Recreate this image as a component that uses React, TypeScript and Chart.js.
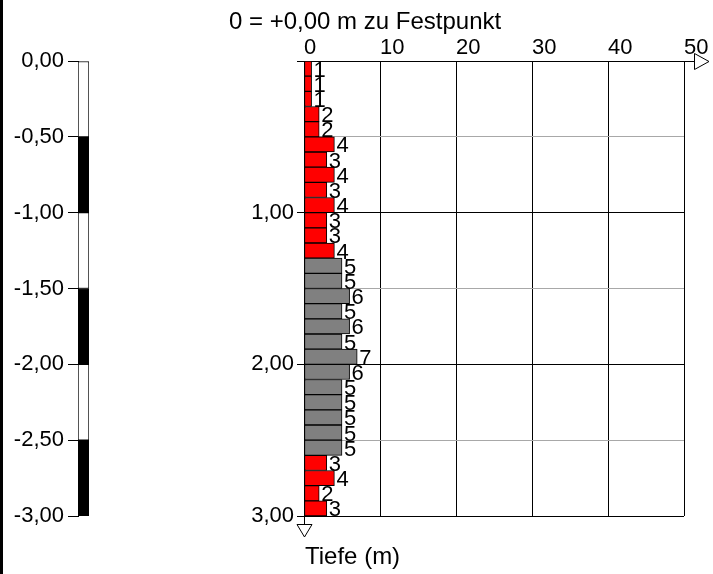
import React, { useEffect, useRef } from 'react';
import { Chart, registerables } from 'chart.js';

Chart.register(...registerables);

// ---- data ----
// bottom depth (m) of every 10 cm interval
const depthBottoms = [
  0.1, 0.2, 0.3, 0.4, 0.5, 0.6, 0.7, 0.8, 0.9, 1.0,
  1.1, 1.2, 1.3, 1.4, 1.5, 1.6, 1.7, 1.8, 1.9, 2.0,
  2.1, 2.2, 2.3, 2.4, 2.5, 2.6, 2.7, 2.8, 2.9, 3.0,
];
// blows per 10 cm
const blows = [
  1, 1, 1, 2, 2, 4, 3, 4, 3, 4,
  3, 3, 4, 5, 5, 6, 5, 6, 5, 7,
  6, 5, 5, 5, 5, 5, 3, 4, 2, 3,
];
// soil layers (bottom depth) and their colours
const layerBottoms = [1.3, 2.6, 3.0];
const layerColors = ['#ff0000', '#808080', '#ff0000'];
// left scale bar breaks and colours
const scaleBreaks = [0, -0.5, -1.0, -1.5, -2.0, -2.5, -3.0];
const scaleColors = ['#ffffff', '#000000', '#ffffff', '#000000', '#ffffff', '#000000'];
// texts
const titleText = '0 = +0,00 m zu Festpunkt';
const depthAxisTitle = 'Tiefe (m)';
const blowTicks = [0, 10, 20, 30, 40, 50];

const FONT = "'Liberation Sans', Arial, sans-serif";
const TICK_SIZE = 22;
const TITLE_SIZE = 24;

const fmt = (v: number) => v.toFixed(2).replace('.', ',');

const colorForDepth = (d: number) => {
  for (let i = 0; i < layerBottoms.length; i++) {
    if (d <= layerBottoms[i] + 1e-9) return layerColors[i];
  }
  return layerColors[layerColors.length - 1];
};

export default function App() {
  const leftRef = useRef<HTMLCanvasElement>(null);
  const mainRef = useRef<HTMLCanvasElement>(null);

  useEffect(() => {
    const leftCanvas = leftRef.current!;
    const mainCanvas = mainRef.current!;

    const leftDeco = {
      id: 'leftDeco',
      afterDraw(chart: any) {
        const ctx = chart.ctx;
        ctx.save();
        ctx.fillStyle = '#000';
        ctx.fillRect(0, 0, 3, chart.height);
        ctx.restore();
      },
    };

    const leftChart = new Chart(leftCanvas, {
      type: 'bar',
      data: {
        labels: [''],
        datasets: scaleColors.map((c, i) => ({
          data: [[scaleBreaks[i + 1], scaleBreaks[i]]] as any,
          backgroundColor: c,
          borderColor: '#000',
          borderWidth: 1,
          borderSkipped: false,
          grouped: false,
          barPercentage: 1,
          categoryPercentage: 1,
        })),
      },
      options: {
        animation: false,
        responsive: false,
        layout: { padding: { left: 0, top: 61, right: 11, bottom: 58 } },
        scales: {
          x: { display: false },
          y: {
            min: -3,
            max: 0,
            ticks: {
              stepSize: 0.5,
              color: '#000',
              padding: 4,
              font: { family: FONT, size: TICK_SIZE },
              callback: (v: any) => fmt(Number(v)),
            },
            grid: { drawOnChartArea: false, tickLength: 10, color: '#000' },
            border: { color: '#000' },
            afterFit: (s: any) => {
              s.width = 78;
            },
          },
        },
        plugins: { legend: { display: false }, tooltip: { enabled: false } },
      },
      plugins: [leftDeco],
    } as any);

    const mainDeco = {
      id: 'mainDeco',
      afterDraw(chart: any) {
        const ctx = chart.ctx;
        const xs = chart.scales.x;
        const ys = chart.scales.y;
        const x0 = xs.getPixelForValue(0);
        const xEnd = xs.getPixelForValue(50);
        const yTop = ys.getPixelForValue(0);
        const yBot = ys.getPixelForValue(3);
        ctx.save();
        ctx.strokeStyle = '#000';
        ctx.lineWidth = 1;
        // x axis extension + arrow
        ctx.beginPath();
        ctx.moveTo(xEnd, Math.round(yTop) + 0.5);
        ctx.lineTo(xEnd + 10, Math.round(yTop) + 0.5);
        ctx.stroke();
        ctx.fillStyle = '#fff';
        ctx.beginPath();
        ctx.moveTo(xEnd + 10.5, yTop - 7.5);
        ctx.lineTo(xEnd + 25, yTop + 0.5);
        ctx.lineTo(xEnd + 10.5, yTop + 8.5);
        ctx.closePath();
        ctx.fill();
        ctx.stroke();
        // y axis extension + arrow
        ctx.beginPath();
        ctx.moveTo(Math.round(x0) + 0.5, yBot);
        ctx.lineTo(Math.round(x0) + 0.5, yBot + 8);
        ctx.stroke();
        ctx.beginPath();
        ctx.moveTo(x0 - 7, yBot + 8.5);
        ctx.lineTo(x0 + 8, yBot + 8.5);
        ctx.lineTo(x0 + 0.5, yBot + 21);
        ctx.closePath();
        ctx.fill();
        ctx.stroke();

        // value labels
        ctx.fillStyle = '#000';
        ctx.font = `${TICK_SIZE}px ${FONT}`;
        ctx.textAlign = 'left';
        ctx.textBaseline = 'middle';
        const meta = chart.getDatasetMeta(0);
        meta.data.forEach((bar: any, i: number) => {
          ctx.fillText(String(blows[i]), bar.x + 2, bar.y + 2);
        });

        // title
        ctx.font = `${TITLE_SIZE}px ${FONT}`;
        ctx.textBaseline = 'alphabetic';
        ctx.fillText(titleText, x0 - 75, 29);
        // depth axis title
        ctx.fillText(depthAxisTitle, x0 + 1, yBot + 48);
        ctx.restore();
      },
    };

    const mainChart = new Chart(mainCanvas, {
      type: 'bar',
      data: {
        datasets: [
          {
            data: blows.map((v, i) => ({ x: v, y: depthBottoms[i] - 0.05 })),
            backgroundColor: depthBottoms.map((d) => colorForDepth(d)),
            borderColor: '#000',
            borderWidth: 1,
            borderSkipped: false,
            barPercentage: 1,
            categoryPercentage: 1,
          },
        ],
      },
      options: {
        indexAxis: 'y',
        animation: false,
        responsive: false,
        layout: { padding: { left: 0, top: 31, right: 29, bottom: 58 } },
        scales: {
          x: {
            type: 'linear',
            position: 'top',
            min: blowTicks[0],
            max: blowTicks[blowTicks.length - 1],
            offset: false,
            afterBuildTicks: (s: any) => {
              s.ticks = blowTicks.map((v) => ({ value: v }));
            },
            ticks: {
              align: 'start',
              padding: 0,
              maxRotation: 0,
              autoSkip: false,
              color: '#000',
              font: { family: FONT, size: TICK_SIZE },
            },
            grid: { color: '#000', drawTicks: false, offset: false },
            border: { color: '#000' },
            afterFit: (s: any) => {
              s.height = 30;
            },
          },
          y: {
            type: 'linear',
            reverse: true,
            min: 0,
            max: 3,
            offset: false,
            ticks: {
              stepSize: 0.5,
              padding: 3,
              color: '#000',
              font: { family: FONT, size: TICK_SIZE },
              callback: (v: any) => {
                const n = Number(v);
                return Math.abs(n - Math.round(n)) < 1e-6 && n > 0 ? fmt(n) : '';
              },
            },
            grid: {
              offset: false,
              tickLength: 7,
              color: (c: any) => {
                const n = c.tick ? c.tick.value : 0;
                return Math.abs(n - Math.round(n)) < 1e-6 ? '#000' : '#a8a8a8';
              },
              tickColor: (c: any) => {
                const n = c.tick ? c.tick.value : 0;
                return Math.abs(n - Math.round(n)) < 1e-6 ? '#000' : 'rgba(0,0,0,0)';
              },
            },
            border: { color: '#000' },
            afterFit: (s: any) => {
              s.width = 204;
            },
          },
        },
        plugins: { legend: { display: false }, tooltip: { enabled: false } },
      },
      plugins: [mainDeco],
    } as any);

    return () => {
      leftChart.destroy();
      mainChart.destroy();
    };
  }, []);

  return (
    <div style={{ position: 'absolute', left: 0, top: 0, width: 713, height: 574, background: '#fff' }}>
      <canvas ref={leftRef} width={100} height={574} style={{ position: 'absolute', left: 0, top: 0 }} />
      <canvas ref={mainRef} width={613} height={574} style={{ position: 'absolute', left: 100, top: 0 }} />
    </div>
  );
}
